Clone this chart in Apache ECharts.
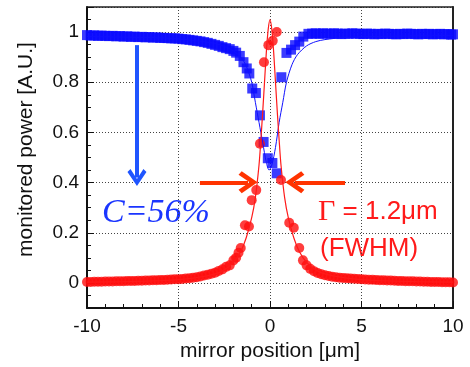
<!DOCTYPE html>
<html>
<head>
<meta charset="utf-8">
<script src="https://cdn.jsdelivr.net/npm/echarts@6/dist/echarts.min.js"></script>
<style>
  html, body { margin: 0; padding: 0; background: #fff; }
  #chart { width: 470px; height: 367px; }
</style>
</head>
<body>
<div id="chart"></div>
<script>
// axis ticks
const xTicks = [-10, -5, 0, 5, 10];
const yRange = [-0.1, 1.1];

// measured transmission (blue squares)
const blueX = [-10, -9.8, -9.6, -9.4, -9.2, -9.0, -8.8, -8.6, -8.4, -8.2, -8.0, -7.8, -7.6, -7.4, -7.2, -7.0,
  -6.8, -6.6, -6.4, -6.2, -6.0, -5.8, -5.6, -5.4, -5.2, -5.0, -4.8, -4.6, -4.4, -4.2, -4.0, -3.8, -3.6, -3.4,
  -3.2, -3.0, -2.8, -2.6, -2.4, -2.2, -2.0, -1.85, -1.65, -1.45, -1.27, -1.13, -0.97, -0.77, -0.55, -0.35,
  -0.12, 0.13, 0.37, 0.62, 0.9, 1.15, 1.37, 1.6, 1.82, 2.1, 2.3, 2.5, 2.7, 2.9, 3.1, 3.3, 3.5, 3.7, 3.9, 4.1,
  4.3, 4.5, 4.7, 4.9, 5.1, 5.3, 5.5, 5.7, 5.9, 6.1, 6.3, 6.5, 6.7, 6.9, 7.1, 7.3, 7.5, 7.7, 7.9, 8.1, 8.3,
  8.5, 8.7, 8.9, 9.1, 9.3, 9.5, 9.7, 9.9, 10.0];
const blueY = [0.988, 0.986, 0.987, 0.985, 0.986, 0.985, 0.984, 0.985, 0.983, 0.984, 0.982, 0.983, 0.981, 0.982,
  0.980, 0.981, 0.979, 0.980, 0.978, 0.979, 0.977, 0.977, 0.976, 0.975, 0.975, 0.974, 0.972, 0.971, 0.969,
  0.967, 0.965, 0.963, 0.960, 0.957, 0.953, 0.949, 0.945, 0.940, 0.936, 0.932, 0.925, 0.918, 0.905, 0.880,
  0.855, 0.835, 0.775, 0.757, 0.668, 0.562, 0.497, 0.478, 0.437, 0.820, 0.917, 0.930, 0.948, 0.962, 0.982,
  0.993, 0.994, 0.995, 0.993, 0.995, 0.994, 0.993, 0.995, 0.994, 0.992, 0.994, 0.993, 0.995, 0.994, 0.993,
  0.992, 0.994, 0.993, 0.991, 0.993, 0.992, 0.994, 0.993, 0.992, 0.991, 0.993, 0.992, 0.994, 0.993, 0.992,
  0.991, 0.993, 0.992, 0.993, 0.991, 0.992, 0.993, 0.991, 0.992, 0.990, 0.991];

// measured reflection (red circles)
const redX = [-10, -9.8, -9.6, -9.4, -9.2, -9.0, -8.8, -8.6, -8.4, -8.2, -8.0, -7.8, -7.6, -7.4, -7.2, -7.0,
  -6.8, -6.6, -6.4, -6.2, -6.0, -5.8, -5.6, -5.4, -5.2, -5.0, -4.8, -4.6, -4.4, -4.2, -4.0, -3.8, -3.6, -3.4,
  -3.2, -3.0, -2.8, -2.6, -2.4, -2.2, -2.0, -1.85, -1.72, -1.6, -1.37, -1.15, -1.0, -0.75, -0.55, -0.33,
  -0.09, 0.15, 0.37, 0.6, 1.05, 1.3, 1.6, 1.8, 2.0, 2.2, 2.4, 2.6, 2.8, 3.0, 3.2, 3.4, 3.6, 3.8, 4.0, 4.2,
  4.4, 4.6, 4.8, 5.0, 5.2, 5.4, 5.6, 5.8, 6.0, 6.2, 6.4, 6.6, 6.8, 7.0, 7.2, 7.4, 7.6, 7.8, 8.0, 8.2, 8.4,
  8.6, 8.8, 9.0, 9.2, 9.4, 9.6, 9.8, 10.0];
const redY = [0.004, 0.004, 0.005, 0.005, 0.005, 0.006, 0.006, 0.006, 0.007, 0.007, 0.007, 0.008, 0.008, 0.008,
  0.009, 0.009, 0.010, 0.010, 0.011, 0.011, 0.012, 0.012, 0.013, 0.014, 0.015, 0.015, 0.016, 0.018, 0.019,
  0.021, 0.023, 0.026, 0.030, 0.033, 0.037, 0.041, 0.048, 0.054, 0.064, 0.070, 0.090, 0.100, 0.120, 0.139,
  0.230, 0.225, 0.330, 0.370, 0.555, 0.880, 0.948, 0.965, 1.000, 0.410, 0.240, 0.220, 0.139, 0.090, 0.070,
  0.056, 0.047, 0.040, 0.035, 0.031, 0.028, 0.025, 0.023, 0.021, 0.020, 0.019, 0.018, 0.017, 0.016, 0.015,
  0.014, 0.013, 0.013, 0.012, 0.011, 0.011, 0.010, 0.010, 0.009, 0.008, 0.008, 0.007, 0.007, 0.007, 0.006,
  0.006, 0.005, 0.005, 0.004, 0.004, 0.004, 0.003, 0.003, 0.003, 0.002];

// fitted curves (thin lines)
const blueFitX = [-10, -8, -6, -5, -4, -3, -2.5, -2, -1.6, -1.3, -1, -0.8, -0.6, -0.4, -0.2, -0.05, 0.1, 0.3,
  0.5, 0.7, 0.9, 1.2, 1.5, 2, 2.5, 3, 4, 6, 8, 10];
const blueFitY = [0.982, 0.980, 0.977, 0.973, 0.965, 0.955, 0.943, 0.925, 0.900, 0.865, 0.800, 0.720, 0.640,
  0.560, 0.480, 0.450, 0.470, 0.540, 0.640, 0.720, 0.800, 0.870, 0.910, 0.945, 0.962, 0.970, 0.978, 0.983,
  0.985, 0.986];
const redFitX = [-10, -8, -6, -5, -4, -3, -2.5, -2, -1.6, -1.3, -1, -0.8, -0.6, -0.5, -0.4, -0.3, -0.2, -0.1, 0,
  0.1, 0.2, 0.3, 0.4, 0.5, 0.6, 0.8, 1, 1.3, 1.6, 2, 2.5, 3, 4, 5, 6, 8, 10];
const redFitY = [0.003, 0.005, 0.009, 0.013, 0.021, 0.036, 0.052, 0.082, 0.125, 0.18, 0.26, 0.34, 0.47, 0.57,
  0.68, 0.80, 0.92, 1.01, 1.05, 1.01, 0.92, 0.80, 0.68, 0.57, 0.47, 0.34, 0.26, 0.18, 0.125, 0.082, 0.052,
  0.036, 0.021, 0.013, 0.009, 0.005, 0.003];

// annotation arrows [x0, y0, x1, y1] in data units
const contrastArrow = [-7.27, 0.948, -7.27, 0.42];
const fwhmLeftArrow = [-3.83, 0.401, -1.2, 0.401];
const fwhmRightArrow = [4.1, 0.401, 1.36, 0.401];

const zip = (xs, ys) => xs.map((x, i) => [x, ys[i]]);

const chevron = 'path://M0,15 L10,0 L20,15 L16.8,18 L10,7.5 L3.2,18 Z';
function arrowLine(a, color, size) {
  return [
    { coord: [a[0], a[1]], symbol: 'none', lineStyle: { color: color, width: 4, type: 'solid' } },
    { coord: [a[2], a[3]], symbol: chevron, symbolSize: size }
  ];
}

const sans = 'Liberation Sans';
const chart = echarts.init(document.getElementById('chart'));

const gridLine = { show: true, lineStyle: { color: '#444', type: [1, 2], width: 1 } };

chart.setOption({
  animation: false,
  backgroundColor: '#fff',
  grid: { left: 87, right: 17, top: 7, bottom: 59 },
  xAxis: [{
    type: 'value', min: xTicks[0], max: xTicks[xTicks.length - 1], interval: 5,
    name: 'mirror position [μm]', nameLocation: 'middle', nameGap: 32,
    nameTextStyle: { fontFamily: sans, fontSize: 21, color: '#111' },
    axisLine: { onZero: false, lineStyle: { color: '#111', width: 2 } },
    axisTick: { inside: true, length: 7, lineStyle: { color: '#111', width: 1 } },
    minorTick: { show: true, splitNumber: 5, length: 4, lineStyle: { color: '#111' } },
    axisLabel: { fontFamily: sans, fontSize: 19, color: '#111', margin: 9 },
    splitLine: gridLine
  }, {
    type: 'value', position: 'top', min: xTicks[0], max: xTicks[xTicks.length - 1], interval: 5,
    axisLine: { onZero: false, lineStyle: { color: '#222', width: 1.5 } },
    axisTick: { show: false }, axisLabel: { show: false }, splitLine: { show: false }
  }],
  yAxis: [{
    type: 'value', min: yRange[0], max: yRange[1],
    name: 'monitored power [A.U.]', nameLocation: 'middle', nameGap: 50,
    nameTextStyle: { fontFamily: sans, fontSize: 21, color: '#111', padding: [0, 0, 0, 16] },
    axisLine: { onZero: false, lineStyle: { color: '#111', width: 2 } },
    axisTick: { inside: true, length: 7, lineStyle: { color: '#111', width: 1 } },
    minorTick: { show: true, splitNumber: 4, length: 4, lineStyle: { color: '#111' } },
    axisLabel: { fontFamily: sans, fontSize: 19, color: '#111', margin: 8, showMinLabel: false, showMaxLabel: false },
    splitLine: gridLine
  }, {
    type: 'value', position: 'right', min: yRange[0], max: yRange[1],
    axisLine: { onZero: false, lineStyle: { color: '#222', width: 2 } },
    axisTick: { show: false }, axisLabel: { show: false }, splitLine: { show: false }
  }],
  series: [
    {
      type: 'scatter', data: zip(blueX, blueY), symbol: 'rect', symbolSize: 10,
      itemStyle: { color: '#0a0aff' }, silent: true
    },
    {
      type: 'line', data: zip(blueFitX, blueFitY), showSymbol: false, smooth: 0.3,
      lineStyle: { color: '#1010ff', width: 1 }, silent: true
    },
    {
      type: 'scatter', data: zip(redX, redY), symbol: 'circle', symbolSize: 10,
      itemStyle: { color: '#ff0d0d' }, silent: true
    },
    {
      type: 'line', data: zip(redFitX, redFitY), showSymbol: false, smooth: 0.3,
      lineStyle: { color: '#ff1a1a', width: 1.2 }, silent: true,
      markLine: {
        silent: true, animation: false,
        label: { show: false },
        emphasis: { disabled: true },
        data: [
          arrowLine(contrastArrow, '#1f55ff', [19, 17]),
          arrowLine(fwhmLeftArrow, '#ff3300', [22, 19]),
          arrowLine(fwhmRightArrow, '#ff3300', [22, 19])
        ]
      }
    }
  ],
  graphic: [
    {
      type: 'text', x: 102, y: 213,
      style: {
        text: 'C=56%', font: 'italic 34px "Liberation Serif"', fill: '#1a35ff',
        verticalAlign: 'middle'
      }
    },
    {
      type: 'text', x: 318, y: 212,
      style: {
        text: '{g|Γ}{t| = 1.2μm}', verticalAlign: 'middle', fill: '#ff1a1a',
        rich: {
          g: { font: '30px "Liberation Serif"', fill: '#ff1a1a' },
          t: { font: '26px "Liberation Sans"', fill: '#ff1a1a' }
        }
      }
    },
    {
      type: 'text', x: 320, y: 249,
      style: { text: '(FWHM)', font: '26px "Liberation Sans"', fill: '#ff1a1a', verticalAlign: 'middle' }
    }
  ]
});
</script>
</body>
</html>
